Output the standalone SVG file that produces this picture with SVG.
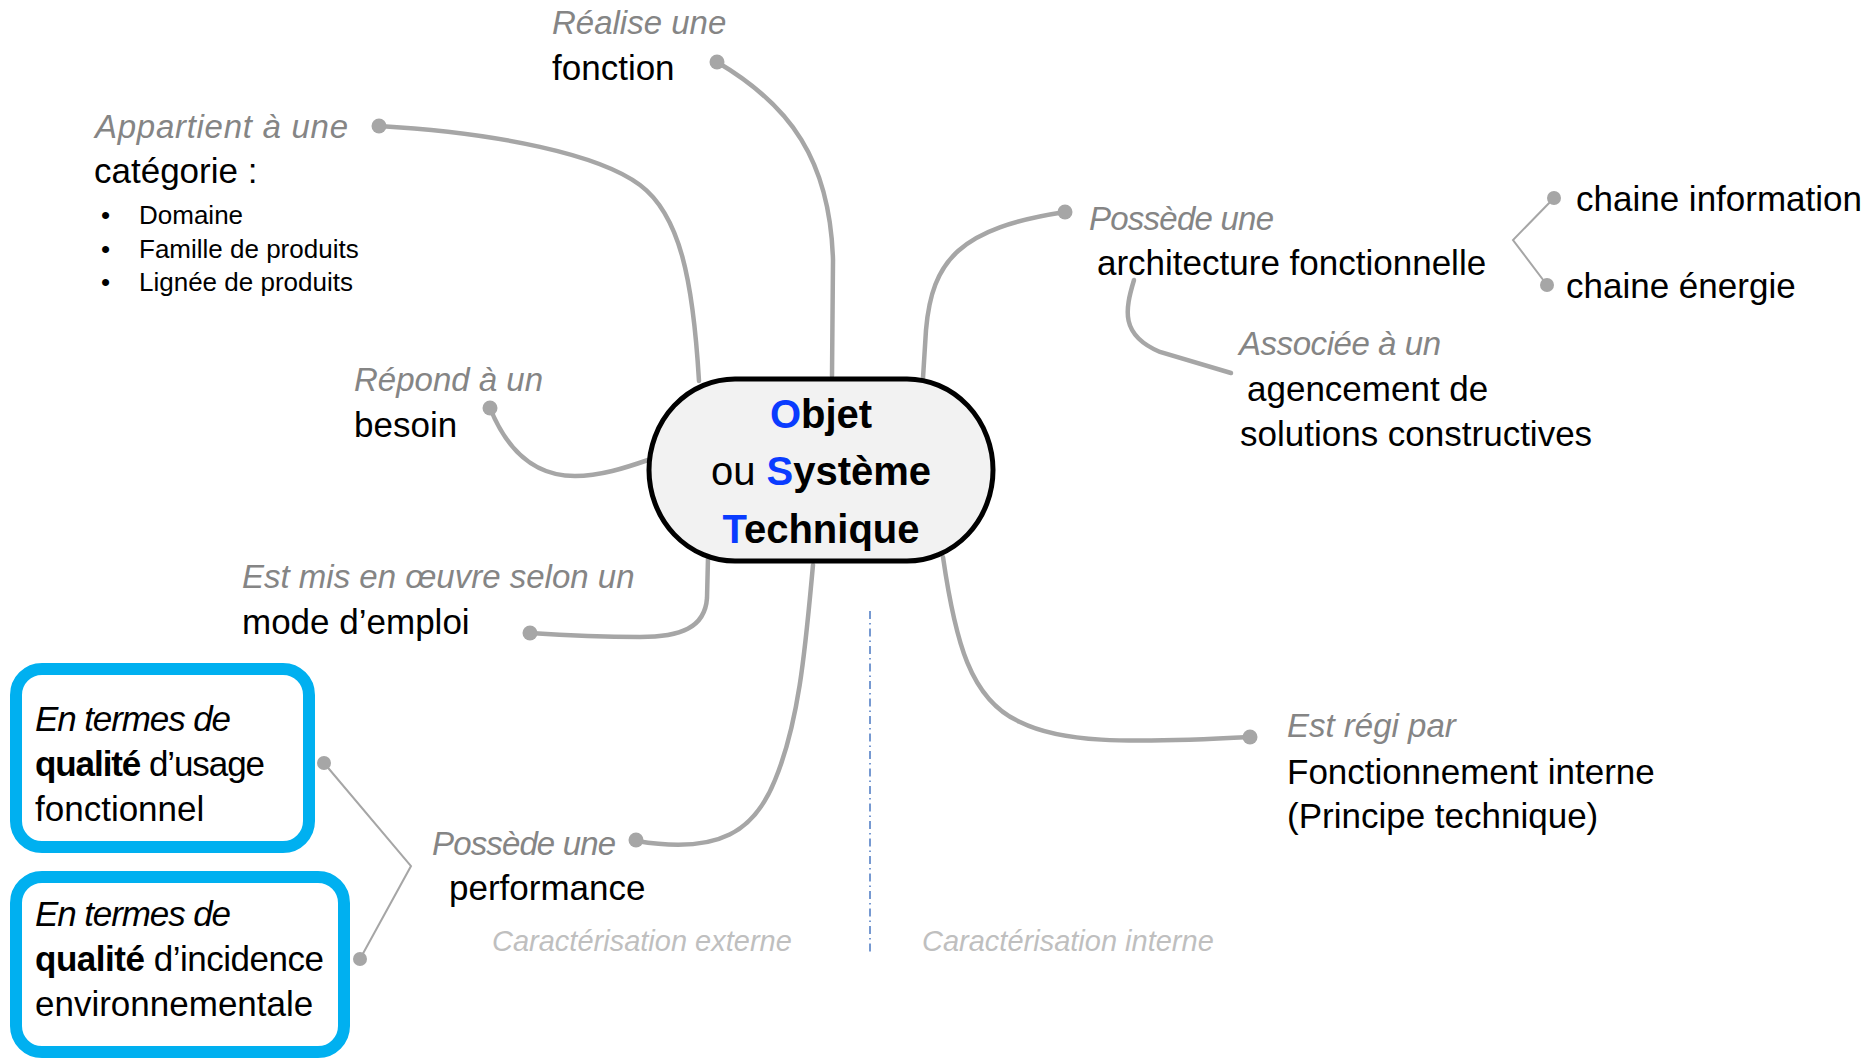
<svg xmlns="http://www.w3.org/2000/svg" width="1873" height="1058" viewBox="0 0 1873 1058">
  <style>
    text { font-family: "Liberation Sans", Arial, sans-serif; }
    .lbl { font-size: 35px; fill: #000; }
    .verb { font-size: 33px; font-style: italic; fill: #858585; }
    .item { font-size: 26px; fill: #000; }
    .zone { font-size: 29px; font-style: italic; fill: #BFBFBF; }
    .title { font-size: 40px; font-weight: bold; fill: #000; text-anchor: middle; }
    .ini { fill: #0A3CFF; }
    .link { fill: none; stroke: #A6A6A6; stroke-width: 4.5; stroke-linecap: round; }
    .thin { fill: none; stroke: #A6A6A6; stroke-width: 2; }
    .dot { fill: #A6A6A6; }
    .box { fill: #fff; stroke: #00B0F0; stroke-width: 12; }
  </style>

  <!-- connectors between the central node and its branches -->
  <g id="connectors">
    <path class="link" d="M717,62 C790,105 830,160 833,260 L832,376"/>
    <path class="link" d="M379,126 C500,133 600,155 640,185 C680,215 693,280 699,381"/>
    <path class="link" d="M490,408 C505,445 530,476 575,476 C600,476 625,468 648,460"/>
    <path class="link" d="M708,558 L707,598 C705,628 680,637 640,637 C600,637 560,635 530,633"/>
    <path class="link" d="M923,378 L926,330 C932,260 960,228 1065,212"/>
    <path class="link" d="M1134,280 C1125,310 1120,335 1160,352 L1231,373"/>
    <path class="link" d="M943,557 C955,640 970,700 1020,722 C1060,742 1120,744 1250,737"/>
    <path class="link" d="M813,565 C806,640 800,720 775,780 C755,830 720,855 637,841"/>
    <path class="thin" d="M1554,198 L1513,240 L1547,285"/>
    <path class="thin" d="M324,763 L411,866 L360,959"/>
    <circle class="dot" cx="717" cy="62" r="7.5"/>
    <circle class="dot" cx="379" cy="126" r="7.5"/>
    <circle class="dot" cx="490" cy="408" r="7.5"/>
    <circle class="dot" cx="530" cy="633" r="7.5"/>
    <circle class="dot" cx="1065" cy="212" r="7.5"/>
    <circle class="dot" cx="1250" cy="737" r="7.5"/>
    <circle class="dot" cx="636" cy="840" r="7.5"/>
    <circle class="dot" cx="1554" cy="198" r="7"/>
    <circle class="dot" cx="1547" cy="285" r="7"/>
    <circle class="dot" cx="324" cy="763" r="7"/>
    <circle class="dot" cx="360" cy="959" r="7"/>
  </g>

  <!-- external / internal separator -->
  <g id="separator">
    <line x1="870" y1="611" x2="870" y2="952" stroke="#4A78C2" stroke-width="1.5" stroke-dasharray="8 4 1.5 4"/>
    <text class="zone" x="492" y="951">Caractérisation externe</text>
    <text class="zone" x="922" y="951">Caractérisation interne</text>
  </g>

  <g id="node-ost">
    <rect x="649" y="379" width="344" height="182" rx="86" ry="91" fill="#F2F2F2" stroke="#000" stroke-width="5"/>
    <text class="title" x="821" y="428"><tspan class="ini">O</tspan>bjet</text>
    <text class="title" x="821" y="485"><tspan font-weight="normal">ou </tspan><tspan class="ini">S</tspan>ystème</text>
    <text class="title" x="821" y="543"><tspan class="ini">T</tspan>echnique</text>
  </g>

  <g id="node-fonction">
    <text class="verb" x="552" y="34">Réalise une</text>
    <text class="lbl" x="552" y="80">fonction</text>
  </g>

  <g id="node-categorie">
    <text class="verb" x="95" y="138" textLength="253">Appartient à une</text>
    <text class="lbl" x="94" y="183">catégorie :</text>
    <text class="item" x="101" y="224">•</text>
    <text class="item" x="139" y="224">Domaine</text>
    <text class="item" x="101" y="258">•</text>
    <text class="item" x="139" y="258">Famille de produits</text>
    <text class="item" x="101" y="291">•</text>
    <text class="item" x="139" y="291">Lignée de produits</text>
  </g>

  <g id="node-besoin">
    <text class="verb" x="354" y="391">Répond à un</text>
    <text class="lbl" x="354" y="437">besoin</text>
  </g>

  <g id="node-emploi">
    <text class="verb" x="242" y="588">Est mis en œuvre selon un</text>
    <text class="lbl" x="242" y="634">mode d’emploi</text>
  </g>

  <g id="node-architecture">
    <text class="verb" x="1089" y="230" textLength="185">Possède une</text>
    <text class="lbl" x="1097" y="275">architecture fonctionnelle</text>
  </g>

  <g id="node-chaine-info">
    <text class="lbl" x="1576" y="211">chaine information</text>
  </g>

  <g id="node-chaine-energie">
    <text class="lbl" x="1566" y="298">chaine énergie</text>
  </g>

  <g id="node-agencement">
    <text class="verb" x="1239" y="355" textLength="202">Associée à un</text>
    <text class="lbl" x="1247" y="401">agencement de</text>
    <text class="lbl" x="1240" y="446">solutions constructives</text>
  </g>

  <g id="node-fonctionnement">
    <text class="verb" x="1287" y="737">Est régi par</text>
    <text class="lbl" x="1287" y="784">Fonctionnement interne</text>
    <text class="lbl" x="1287" y="828">(Principe technique)</text>
  </g>

  <g id="node-performance">
    <text class="verb" x="432" y="855" textLength="184">Possède une</text>
    <text class="lbl" x="449" y="900">performance</text>
  </g>

  <g id="node-usage">
    <rect class="box" x="16" y="669" width="293" height="178" rx="26"/>
    <text class="lbl" x="35" y="731" font-style="italic" textLength="196">En termes de</text>
    <text class="lbl" x="35" y="776" textLength="230"><tspan font-weight="bold">qualité</tspan> d’usage</text>
    <text class="lbl" x="35" y="821">fonctionnel</text>
  </g>

  <g id="node-incidence">
    <rect class="box" x="16" y="877" width="328" height="175" rx="26"/>
    <text class="lbl" x="35" y="926" font-style="italic" textLength="196">En termes de</text>
    <text class="lbl" x="35" y="971" textLength="289"><tspan font-weight="bold">qualité</tspan> d’incidence</text>
    <text class="lbl" x="35" y="1016">environnementale</text>
  </g>
</svg>
